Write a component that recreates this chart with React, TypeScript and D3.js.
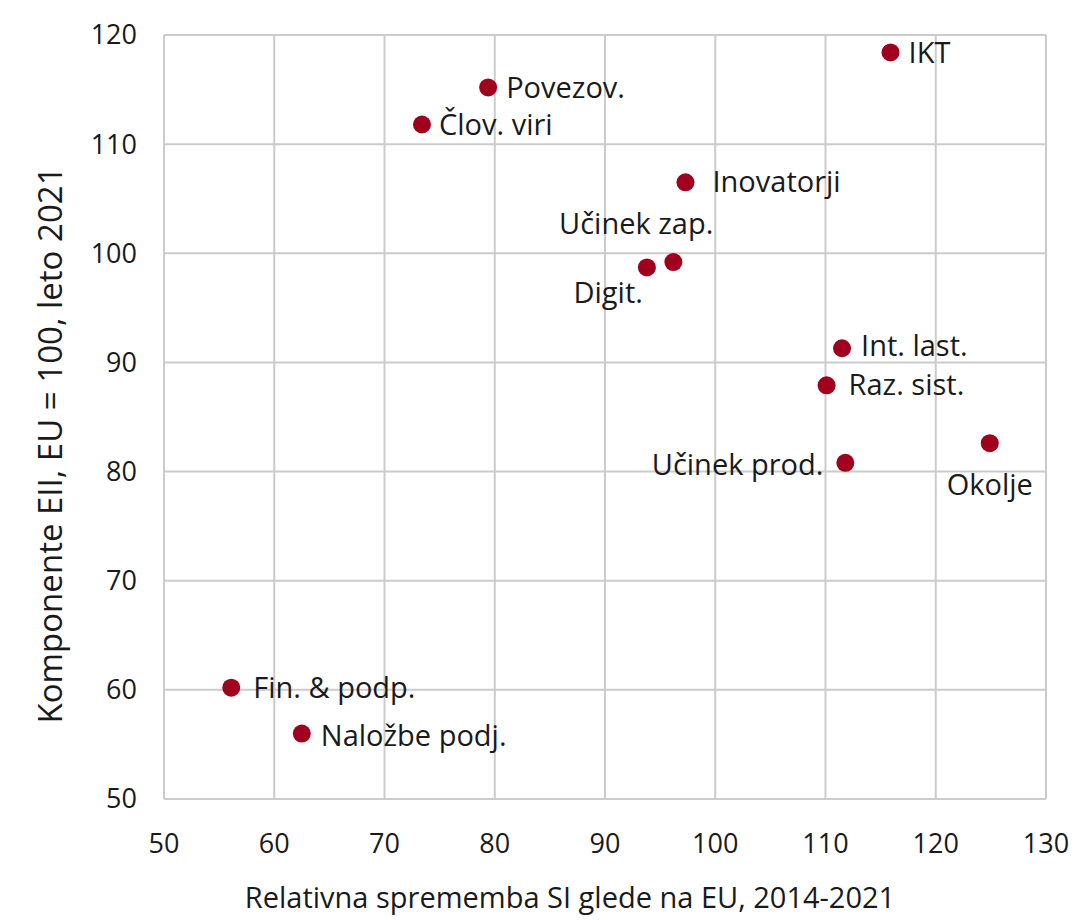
import React, { useEffect, useRef } from 'react';
import * as d3 from 'd3';

// podatki (odčitani s slike)
const names = ['IKT', 'Povezov.', 'Člov. viri', 'Inovatorji', 'Učinek zap.', 'Digit.', 'Int. last.', 'Raz. sist.', 'Učinek prod.', 'Okolje', 'Fin. & podp.', 'Naložbe podj.'];
const xVals = [115.9, 79.4, 73.4, 97.3, 96.2, 93.8, 111.5, 110.1, 111.8, 124.9, 56.1, 62.5];
const yVals = [118.4, 115.2, 111.8, 106.5, 99.2, 98.7, 91.3, 87.9, 80.8, 82.6, 60.2, 56.0];
const xTicks = [50, 60, 70, 80, 90, 100, 110, 120, 130];
const yTicks = [50, 60, 70, 80, 90, 100, 110, 120];

// položaj oznak: [dx, dy, anchor]
const labelPos: [number, number, string][] = [
	[18, 0, 'start'], [18, 0, 'start'], [17, 0, 'start'], [27, 0, 'start'],
	[40, -38, 'end'], [-4, 25, 'end'], [19, -2, 'start'], [22, 0, 'start'],
	[-22, 2, 'end'], [0, 42, 'middle'], [22, 0, 'start'], [19, 2, 'start'],
];

const W = 1074, H = 920;
const M = { left: 164, top: 35, right: 1046, bottom: 799 };
const FONT = '"Open Sans", sans-serif';
const INK = '#1a1a1a';

export default function App() {
	const svgRef = useRef<SVGSVGElement>(null);

	useEffect(() => {
		const svg = d3.select(svgRef.current);
		svg.selectAll('*').remove();

		const x = d3.scaleLinear().domain([50, 130]).range([M.left, M.right]);
		const y = d3.scaleLinear().domain([50, 120]).range([M.bottom, M.top]);

		const grid = svg.append('g').attr('stroke', '#cbcbcb').attr('stroke-width', 2);
		grid.selectAll('.gx').data(xTicks).join('line').attr('class', 'gx')
			.attr('x1', d => x(d)).attr('x2', d => x(d)).attr('y1', M.top).attr('y2', M.bottom);
		grid.selectAll('.gy').data(yTicks).join('line').attr('class', 'gy')
			.attr('y1', d => y(d)).attr('y2', d => y(d)).attr('x1', M.left).attr('x2', M.right);

		svg.append('g').selectAll('text').data(xTicks).join('text')
			.attr('x', d => x(d)).attr('y', M.bottom + 54)
			.attr('text-anchor', 'middle').attr('font-family', FONT).attr('font-size', 27).attr('fill', INK)
			.text(d => d);
		svg.append('g').selectAll('text').data(yTicks).join('text')
			.attr('x', 137).attr('y', d => y(d)).attr('dy', '0.35em')
			.attr('text-anchor', 'end').attr('font-family', FONT).attr('font-size', 27).attr('fill', INK)
			.text(d => d);

		svg.append('text')
			.attr('x', 570).attr('y', 908)
			.attr('text-anchor', 'middle').attr('font-family', FONT).attr('font-size', 29).attr('fill', INK)
			.text('Relativna sprememba SI glede na EU, 2014-2021');
		svg.append('text')
			.attr('transform', `translate(62, 445) rotate(-90)`)
			.attr('text-anchor', 'middle').attr('font-family', FONT).attr('font-size', 33).attr('fill', INK)
			.text('Komponente EII, EU = 100, leto 2021');

		const pts = names.map((n, i) => ({ n, x: xVals[i], y: yVals[i], p: labelPos[i] }));
		svg.append('g').selectAll('circle').data(pts).join('circle')
			.attr('cx', d => x(d.x)).attr('cy', d => y(d.y)).attr('r', 9).attr('fill', '#a0001e');
		svg.append('g').selectAll('text').data(pts).join('text')
			.attr('x', d => x(d.x) + d.p[0]).attr('y', d => y(d.y) + d.p[1]).attr('dy', '0.35em')
			.attr('text-anchor', d => d.p[2]).attr('font-family', FONT).attr('font-size', 29).attr('fill', INK)
			.text(d => d.n);
	}, []);

	return (
		<svg ref={svgRef} width={W} height={H} style={{ display: 'block', position: 'absolute', left: 0, top: 0, background: '#fff' }} />
	);
}
